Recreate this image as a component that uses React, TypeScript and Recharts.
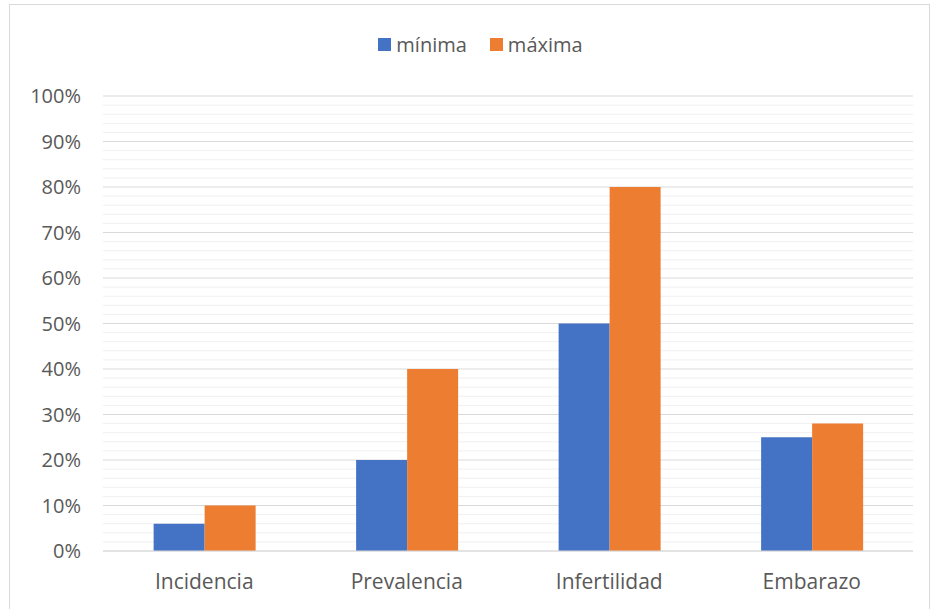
import React from "react";
import {
  BarChart,
  Bar,
  XAxis,
  YAxis,
  CartesianGrid,
  Legend,
} from "recharts";

const categories = ["Incidencia", "Prevalencia", "Infertilidad", "Embarazo"];
const minima = [0.06, 0.2, 0.5, 0.25];
const maxima = [0.1, 0.4, 0.8, 0.28];
const majorTicks = [0, 0.1, 0.2, 0.3, 0.4, 0.5, 0.6, 0.7, 0.8, 0.9, 1.0];
const minorTicks = [
  0.02, 0.04, 0.06, 0.08, 0.12, 0.14, 0.16, 0.18, 0.22, 0.24, 0.26, 0.28,
  0.32, 0.34, 0.36, 0.38, 0.42, 0.44, 0.46, 0.48, 0.52, 0.54, 0.56, 0.58,
  0.62, 0.64, 0.66, 0.68, 0.72, 0.74, 0.76, 0.78, 0.82, 0.84, 0.86, 0.88,
  0.92, 0.94, 0.96, 0.98,
];
const seriesNames = ["mínima", "máxima"];
const seriesColors = ["#4472C4", "#ED7D31"];

const data = categories.map((c, i) => ({
  name: c,
  minima: minima[i],
  maxima: maxima[i],
}));

const FONT = "'Open Sans', sans-serif";
const TEXT = "#595959";

const LegendContent = () => (
  <div style={{ display: "flex", justifyContent: "center", alignItems: "center", height: 30, paddingLeft: 30, boxSizing: "border-box", fontFamily: FONT, fontSize: 20, color: TEXT }}>
    {seriesNames.map((n, i) => (
      <div key={n} style={{ display: "flex", alignItems: "center", marginLeft: i === 0 ? 0 : 23 }}>
        <span style={{ display: "inline-block", width: 13, height: 13, background: seriesColors[i], marginRight: 5 }} />
        <span>{n}</span>
      </div>
    ))}
  </div>
);

const minorGen = (args: any) => {
  const { yAxis, offset } = args || {};
  return minorTicks.map((v) => {
    const s = yAxis && yAxis.scale;
    if (typeof s === "function") return s(v);
    if (s && typeof s.map === "function") return s.map(v);
    return offset.top + offset.height * (1 - v);
  });
};

export default function App() {
  return (
    <div style={{ position: "absolute", left: 0, top: 0, width: 931, height: 609, background: "#fff", fontFamily: FONT }}>
      <div
        style={{
          position: "absolute",
          left: 9,
          top: 4,
          width: 921,
          height: 620,
          border: "1px solid #d9d9d9",
          boxSizing: "border-box",
        }}
      />
      <div style={{ position: "absolute", left: 0, top: 0 }}>
        <BarChart
          width={931}
          height={609}
          data={data}
          margin={{ top: 66, right: 18, bottom: 28, left: 23 }}
          barCategoryGap="25%"
          barGap={0}
        >
          <CartesianGrid
            vertical={false}
            stroke="#f0f0f0"
            strokeWidth={1}
            horizontalCoordinatesGenerator={minorGen}
          />
          <CartesianGrid vertical={false} stroke="#d9d9d9" strokeWidth={1} />
          <XAxis
            dataKey="name"
            axisLine={{ stroke: "#d9d9d9", strokeWidth: 1 }}
            tickLine={false}
            tick={{ fill: TEXT, fontSize: 21, fontFamily: FONT }}
            tickMargin={17}
          />
          <YAxis
            width={80}
            domain={[0, 1]}
            ticks={majorTicks}
            tickFormatter={(v: number) => `${Math.round(v * 100)}%`}
            axisLine={false}
            tickLine={false}
            tick={{ fill: TEXT, fontSize: 20, fontFamily: FONT }}
            tickMargin={16}
          />
          <Legend
            verticalAlign="top"
            align="center"
            content={LegendContent}
            wrapperStyle={{ top: 29, height: 30, width: 931, left: 0 }}
          />
          <Bar dataKey="minima" name="mínima" fill={seriesColors[0]} isAnimationActive={false} />
          <Bar dataKey="maxima" name="máxima" fill={seriesColors[1]} isAnimationActive={false} />
        </BarChart>
      </div>
    </div>
  );
}
